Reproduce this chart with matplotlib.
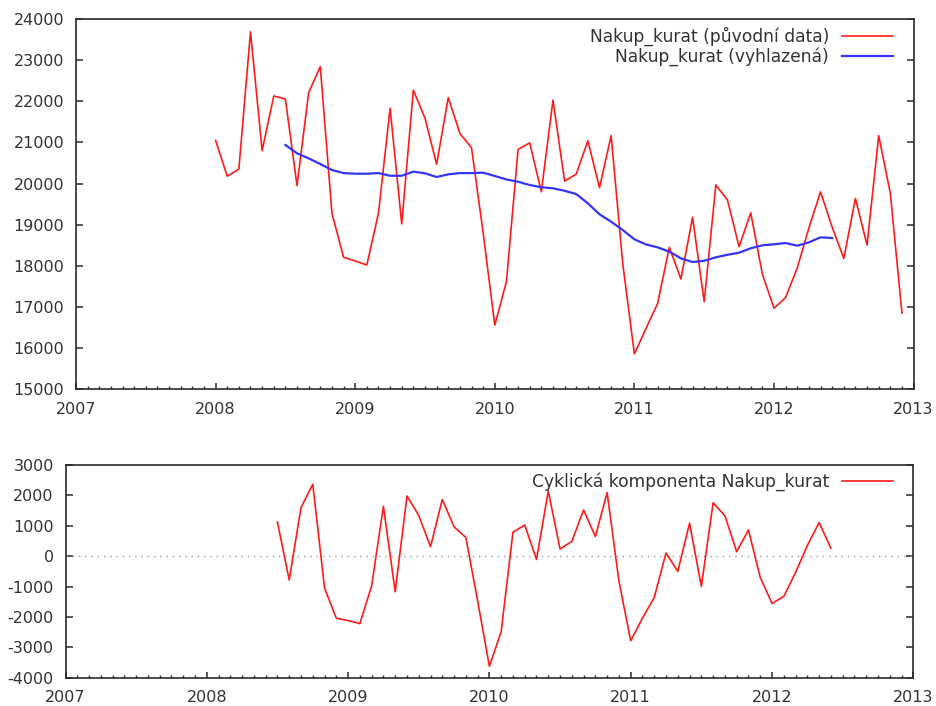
import numpy as np
import matplotlib
matplotlib.use("Agg")
import matplotlib.pyplot as plt

plt.rcParams['font.family'] = ['DejaVu Sans']

# Monthly purchases, Jan 2008 - Dec 2012
start_year = 2008
original = [
    21050, 20180, 20350, 23690, 20800, 22130, 22055, 19950, 22210, 22840, 19280, 18210,
    18120, 18020, 19280, 21830, 19020, 22270, 21590, 20470, 22090, 21220, 20870, 18800,
    16560, 17615, 20830, 20990, 19800, 22030, 20060, 20230, 21040, 19900, 21165, 18050,
    15860, 16480, 17090, 18450, 17680, 19180, 17130, 19965, 19600, 18465, 19290, 17800,
    16970, 17230, 17950, 18920, 19800, 18940, 18180, 19640, 18505, 21165, 19765, 16850,
]
# Centred moving average, Jul 2008 - Jun 2012
smooth_offset = 6
smoothed = [
    20937, 20735, 20613, 20475, 20330, 20255,
    20240, 20240, 20255, 20190, 20190, 20290, 20250, 20160, 20225, 20255, 20255, 20265,
    20185, 20100, 20045, 19965, 19910, 19885, 19825, 19745, 19520, 19253, 19073, 18870,
    18645, 18520, 18450, 18345, 18183, 18093, 18125, 18208, 18270, 18320, 18427, 18500,
    18524, 18555, 18490, 18572, 18694, 18677,
]

year_ticks = list(range(2007, 2014))
top_yticks = list(range(15000, 24001, 1000))
bottom_yticks = list(range(-4000, 3001, 1000))

label_orig = "Nakup_kurat (původní data)"
label_smooth = "Nakup_kurat (vyhlazená)"
label_cycle = "Cyklická komponenta Nakup_kurat"

orig = np.array(original, dtype=float)
smo = np.array(smoothed, dtype=float)
t_orig = start_year + np.arange(len(orig)) / 12.0
t_smo = start_year + (smooth_offset + np.arange(len(smo))) / 12.0
cycle = orig[smooth_offset:smooth_offset + len(smo)] - smo

RED = '#ff1a1a'
BLUE = '#3434ff'
INK = '#2a2a2a'
FS = 11.5
LEG_FS = 12.3

W, H = 936, 706
fig = plt.figure(figsize=(W / 100, H / 100), dpi=100)
ax1 = fig.add_axes([76 / W, 1 - 389.3 / H, 837.6 / W, 370.3 / H])
ax2 = fig.add_axes([65.5 / W, 1 - 677.7 / H, 847.8 / W, 212.7 / H])


def style(ax, yticks):
    ax.set_xlim(year_ticks[0], year_ticks[-1])
    ax.set_ylim(yticks[0], yticks[-1])
    ax.set_xticks(year_ticks)
    ax.set_xticks(np.arange(year_ticks[0], year_ticks[-1] + 1e-9, 1 / 12), minor=True)
    ax.set_yticks(yticks)
    ax.set_xticklabels([str(y) for y in year_ticks])
    ax.set_yticklabels([str(v) for v in yticks])
    ax.tick_params(axis='x', which='major', direction='in', length=4.5, width=1.1,
                   color=INK, top=False, bottom=True, labelsize=FS, labelcolor='#333333', pad=9)
    ax.tick_params(axis='x', which='minor', direction='in', length=2.3, width=1.0,
                   color=INK, top=False, bottom=True)
    ax.tick_params(axis='y', which='major', direction='in', length=5, width=1.1,
                   color=INK, left=True, right=True, labelsize=FS, labelcolor='#333333', pad=8.5)
    for s in ax.spines.values():
        s.set_linewidth(1.2)
        s.set_color(INK)


style(ax1, top_yticks)
style(ax2, bottom_yticks)

ax1.plot(t_orig, orig, color=RED, lw=1.2, label=label_orig)
ax1.plot(t_smo, smo, color=BLUE, lw=1.6, label=label_smooth)

ax2.axhline(0, color='#9a9a9a', lw=1.0, ls=(0, (1, 3.5)))
ax2.plot(t_smo, cycle, color=RED, lw=1.2, label=label_cycle)

for ax, top_px in ((ax1, 27), (ax2, 472.5)):
    leg = ax.legend(loc='upper right', bbox_to_anchor=(893 / W, 1 - top_px / H),
                    bbox_transform=fig.transFigure, frameon=False, markerfirst=False,
                    fontsize=LEG_FS, handlelength=3.0, handletextpad=0.75, labelspacing=0.07,
                    borderpad=0, borderaxespad=0)
    for txt in leg.get_texts():
        txt.set_color('#333333')

fig.savefig('out.png', dpi=100, facecolor='white')
